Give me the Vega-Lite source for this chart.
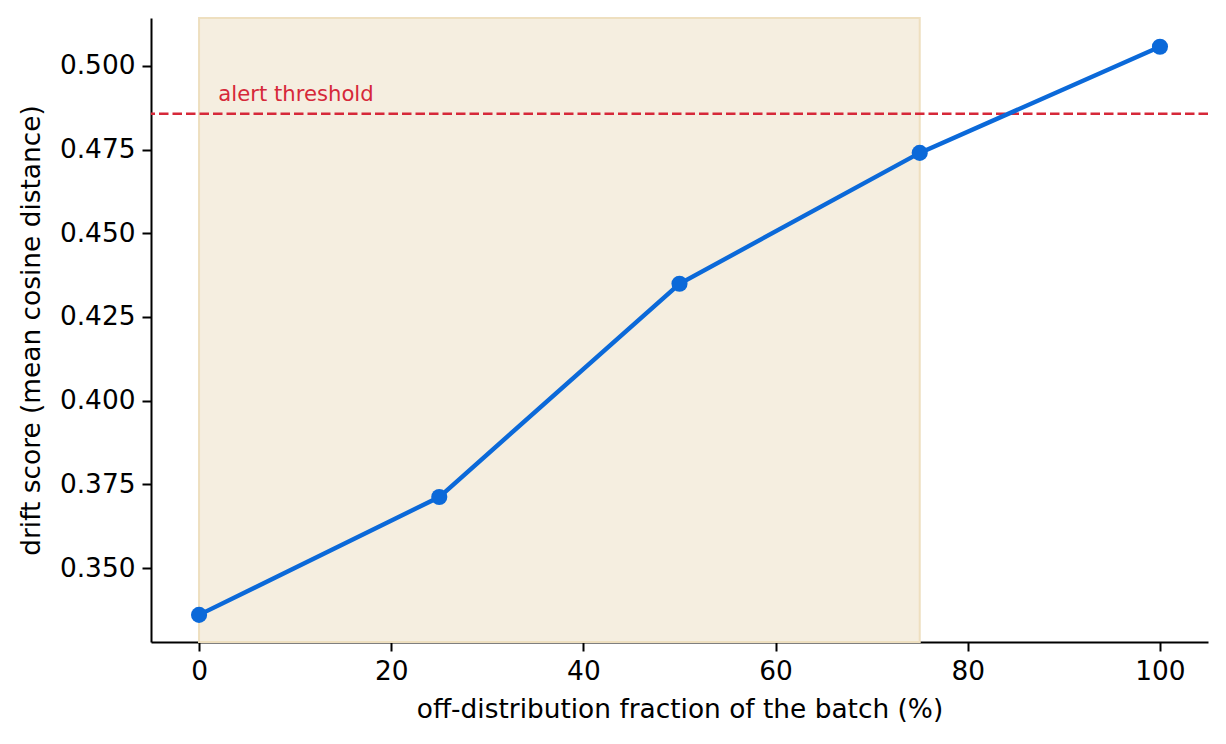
{
  "$schema": "https://vega.github.io/schema/vega-lite/v6.json",
  "width": 1057,
  "height": 624,
  "autosize": {"type": "none"},
  "padding": {"left": 151, "top": 18, "right": 18, "bottom": 102},
  "background": "white",
  "config": {
    "view": {"stroke": null},
    "font": "DejaVu Sans",
    "axis": {
      "domainColor": "black",
      "domainWidth": 2,
      "tickColor": "black",
      "tickWidth": 2,
      "tickSize": 9,
      "labelFontSize": 26.4,
      "labelColor": "black",
      "labelFont": "DejaVu Sans",
      "titleFont": "DejaVu Sans",
      "titleFontSize": 26.4,
      "titleFontWeight": "normal",
      "titleColor": "black",
      "grid": false,
      "labelPadding": 7,
      "zindex": 1
    }
  },
  "datasets": {
    "drift": [
      {"fraction": 0, "score": 0.336},
      {"fraction": 25, "score": 0.3712},
      {"fraction": 50, "score": 0.4349},
      {"fraction": 75, "score": 0.474},
      {"fraction": 100, "score": 0.5057}
    ],
    "band": [{"start": 0, "end": 75}],
    "threshold": [{"value": 0.4857, "pos": 2, "label": "alert threshold"}]
  },
  "layer": [
    {
      "data": {"name": "band"},
      "mark": {"type": "rect", "color": "#f5eee0", "stroke": "#eedfbf", "strokeWidth": 2},
      "encoding": {
        "x": {"field": "start", "type": "quantitative"},
        "x2": {"field": "end"}
      }
    },
    {
      "data": {"name": "threshold"},
      "mark": {"type": "rule", "color": "#d62839", "strokeWidth": 2.6, "strokeDash": [9.5, 4]},
      "encoding": {
        "y": {"field": "value", "type": "quantitative"}
      }
    },
    {
      "data": {"name": "threshold"},
      "mark": {"type": "text", "color": "#d62839", "font": "DejaVu Sans", "fontSize": 21.2, "align": "left", "baseline": "alphabetic", "dy": -13},
      "encoding": {
        "x": {"field": "pos", "type": "quantitative"},
        "y": {"field": "value", "type": "quantitative"},
        "text": {"field": "label"}
      }
    },
    {
      "data": {"name": "drift"},
      "mark": {"type": "line", "color": "#0b69d9", "strokeWidth": 4.4, "point": {"filled": true, "size": 260, "color": "#0b69d9", "opacity": 1}},
      "encoding": {
        "x": {
          "field": "fraction",
          "type": "quantitative",
          "scale": {"domain": [-5, 105], "nice": false, "zero": false},
          "axis": {"values": [0, 20, 40, 60, 80, 100], "title": "off-distribution fraction of the batch (%)", "titlePadding": 12}
        },
        "y": {
          "field": "score",
          "type": "quantitative",
          "scale": {"domain": [0.3279, 0.5143], "nice": false, "zero": false},
          "axis": {"values": [0.35, 0.375, 0.4, 0.425, 0.45, 0.475, 0.5], "format": ".3f", "title": "drift score (mean cosine distance)", "titlePadding": 14}
        }
      }
    }
  ]
}
